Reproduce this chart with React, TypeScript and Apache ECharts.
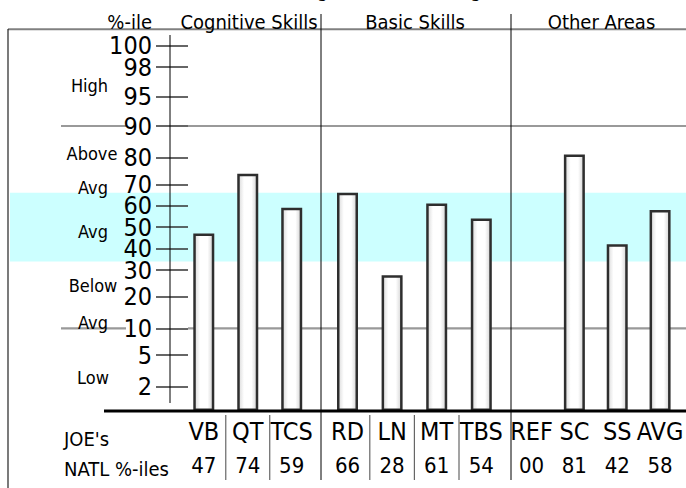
import { useEffect, useRef } from "react";
import * as echarts from "echarts";

// ---------- data ----------
const GROUP_NAMES = ["Cognitive Skills", "Basic Skills", "Other Areas"];
const COGNITIVE_CATS = ["VB", "QT", "TCS"];
const BASIC_CATS = ["RD", "LN", "MT", "TBS"];
const OTHER_CATS = ["REF", "SC", "SS", "AVG"];
const COGNITIVE_VALUES = [47, 74, 59];
const BASIC_VALUES = [66, 28, 61, 54];
const OTHER_VALUES = [0, 81, 42, 58];
const TICK_PERCENTILES = [2, 5, 10, 20, 30, 40, 50, 60, 70, 80, 90, 95, 98, 100];
// the chart's non-linear percentile scale: percentile breakpoints -> scale units
const SCALE_PCT = [0, 2, 5, 10, 20, 30, 40, 50, 60, 70, 80, 90, 95, 98, 100];
const SCALE_UNITS = [0, 24.3, 56, 82.7, 114.3, 141, 162.5, 184, 205.3, 226.7, 253.3, 285, 314.3, 344, 365.3];
const AVG_BAND = [34, 66];
const GUIDE_PERCENTILES = [10, 90];
const ZONE_LABELS = ["High", "Above", "Avg", "Avg", "Below", "Avg", "Low"];

// ---------- layout ----------
const W = 686;
const H = 488;
const BASE_Y = 411;
const TOP_Y = 45.7;
const HEADROOM = 8;
const FONT = "'DejaVu Sans Condensed', 'Liberation Sans Narrow', sans-serif";
const ZONE_Y = [85, 153, 187, 231, 285.5, 322, 377.5];
const ZONE_X = [89.5, 92, 93, 93, 93, 93, 93];

function toScale(p: number): number {
  for (let i = 1; i < SCALE_PCT.length; i++) {
    if (p <= SCALE_PCT[i]) {
      const t = (p - SCALE_PCT[i - 1]) / (SCALE_PCT[i] - SCALE_PCT[i - 1]);
      return SCALE_UNITS[i - 1] + t * (SCALE_UNITS[i] - SCALE_UNITS[i - 1]);
    }
  }
  return SCALE_UNITS[SCALE_UNITS.length - 1];
}
const AXIS_MAX = SCALE_UNITS[SCALE_UNITS.length - 1] + HEADROOM;

const GROUPS = [
  { cats: COGNITIVE_CATS, values: COGNITIVE_VALUES, left: 181.8, width: 131.9 },
  { cats: BASIC_CATS, values: BASIC_VALUES, left: 325.2, width: 178.4 },
  { cats: OTHER_CATS, values: OTHER_VALUES, left: 510.1, width: 171.4 },
];

const pad2 = (v: number) => String(v).padStart(2, "0");

export default function App() {
  const ref = useRef<HTMLDivElement>(null);
  useEffect(() => {
    if (!ref.current) return;
    const chart = echarts.init(ref.current, undefined, { renderer: "svg" });
    const gridTop = TOP_Y - HEADROOM;

    // tick axis is split in two so that ECharts' min/max label overlap rule keeps the crowded top tick
    const topPct = TICK_PERCENTILES.slice(-1);
    const restPct = TICK_PERCENTILES.slice(0, -1);

    const tickGrid = { left: 188, width: 4, top: gridTop, bottom: H - BASE_Y, containLabel: false, outerBoundsMode: "none" };
    const grids: any[] = [
      tickGrid,
      ...GROUPS.map((g) => ({
        left: g.left,
        width: g.width,
        top: gridTop,
        bottom: H - BASE_Y,
        containLabel: false,
        outerBoundsMode: "none",
      })),
      { ...tickGrid },
    ];

    const xAxes: any[] = [
      { gridIndex: 0, type: "value", show: false },
      ...GROUPS.map((g, gi) => ({
        gridIndex: gi + 1,
        type: "category",
        data: g.cats,
        axisLine: { show: false },
        axisTick: { show: false },
        z: 4,
        axisLabel: {
          interval: 0,
          margin: 3,
          color: "#000",
          formatter: (val: string, idx: number) => `{c|${val}}\n{v|${pad2(g.values[idx])}}`,
          rich: {
            c: { fontSize: 25, lineHeight: 34, fontFamily: FONT, color: "#000" },
            v: { fontSize: 22, lineHeight: 34, fontFamily: FONT, color: "#000" },
          },
        },
      })),
      { gridIndex: 4, type: "value", show: false },
    ];

    const tickAxis = (gridIndex: number, pcts: number[]) => {
      const units = pcts.map((p) => toScale(p));
      return {
        gridIndex,
        type: "value",
        min: 0,
        max: AXIS_MAX,
        position: "left",
        z: 4,
        axisLine: { show: false },
        splitLine: { show: false },
        axisTick: {
          show: true,
          length: 32,
          customValues: units,
          lineStyle: { color: "#333", width: 1.5 },
        },
        axisLabel: {
          customValues: units.slice(),
          showMinLabel: true,
          showMaxLabel: true,
          margin: 36,
          fontSize: 25,
          lineHeight: 18,
          fontFamily: FONT,
          color: "#000",
          formatter: (v: number) => {
            let best = 0;
            for (let i = 0; i < units.length; i++) {
              if (Math.abs(units[i] - v) < Math.abs(units[best] - v)) best = i;
            }
            return String(pcts[best]);
          },
        },
      };
    };

    const yAxes: any[] = [
      tickAxis(0, restPct),
      ...GROUPS.map((_, gi) => ({
        gridIndex: gi + 1,
        type: "value",
        min: 0,
        max: AXIS_MAX,
        show: false,
      })),
      tickAxis(4, topPct),
    ];

    const series: any[] = GROUPS.map((g, gi) => ({
      type: "bar",
      xAxisIndex: gi + 1,
      yAxisIndex: gi + 1,
      barWidth: 21,
      z: 2,
      data: g.values.map((v) => (v > 0 ? toScale(v) : null)),
      itemStyle: {
        color: new echarts.graphic.LinearGradient(0, 0, 1, 0, [
          { offset: 0, color: "#d9d9d9" },
          { offset: 0.3, color: "#ffffff" },
          { offset: 0.7, color: "#ffffff" },
          { offset: 1, color: "#d4d4d4" },
        ]),
        borderColor: "#2e2e2e",
        borderWidth: 2.5,
      },
    }));

    chart.setOption({
      animation: false,
      backgroundColor: "#fff",
      grid: grids,
      xAxis: xAxes,
      yAxis: yAxes,
      series,
    });

    const yPix = (p: number) => chart.convertToPixel({ yAxisIndex: 1 }, toScale(p)) as number;
    const xPix = (axis: number, cat: string) => chart.convertToPixel({ xAxisIndex: axis }, cat) as number;

    const els: any[] = [];
    // average band
    const bandTop = yPix(AVG_BAND[1]);
    const bandBot = yPix(AVG_BAND[0]);
    els.push({
      type: "rect",
      z: -1,
      shape: { x: 10, y: bandTop, width: W - 10, height: bandBot - bandTop },
      style: { fill: "#ccffff" },
    });
    // guide lines at 10 and 90
    GUIDE_PERCENTILES.forEach((p) => {
      const y = yPix(p);
      els.push({ type: "line", z: 1, shape: { x1: 61, y1: y, x2: 126, y2: y }, style: { stroke: "#999", lineWidth: 2.2 } });
      els.push({ type: "line", z: 1, shape: { x1: 188, y1: y, x2: W, y2: y }, style: { stroke: "#999", lineWidth: 2.2 } });
    });
    // y axis line
    els.push({ type: "line", z: 5, shape: { x1: 170, y1: 35, x2: 170, y2: 403 }, style: { stroke: "#000", lineWidth: 1 } });
    // baseline
    els.push({ type: "line", z: 6, shape: { x1: 104, y1: BASE_Y, x2: W, y2: BASE_Y }, style: { stroke: "#000", lineWidth: 3 } });
    // frame
    els.push({ type: "line", z: 5, shape: { x1: 8, y1: 29.3, x2: W, y2: 29.3 }, style: { stroke: "#808080", lineWidth: 2 } });
    els.push({ type: "line", z: 5, shape: { x1: 8, y1: 29, x2: 8, y2: H }, style: { stroke: "#222", lineWidth: 1.2 } });
    // group dividers
    [321, 511].forEach((x) => {
      els.push({ type: "line", z: 5, shape: { x1: x, y1: 14, x2: x, y2: 480 }, style: { stroke: "#000", lineWidth: 1 } });
    });
    // sub dividers in the label area (between categories of the first two groups)
    GROUPS.slice(0, 2).forEach((g, gi) => {
      for (let i = 0; i < g.cats.length - 1; i++) {
        const x = (xPix(gi + 1, g.cats[i]) + xPix(gi + 1, g.cats[i + 1])) / 2;
        els.push({ type: "line", z: 5, shape: { x1: x, y1: 415, x2: x, y2: 480 }, style: { stroke: "#666", lineWidth: 1.2 } });
      }
    });
    // texts
    const txt = (text: string, x: number, y: number, size: number, align = "center") => ({
      type: "text",
      z: 7,
      x,
      y,
      style: { text, fill: "#000", fontSize: size, fontFamily: FONT, align, verticalAlign: "middle" },
    });
    els.push(txt("(Avg = National Range)", 394, -10, 20));
    els.push(txt("%-ile", 152, 21.5, 20, "right"));
    const headerX = [249, 415, 601.5];
    GROUP_NAMES.forEach((n, i) => els.push(txt(n, headerX[i], 21.5, 20)));
    ZONE_LABELS.forEach((n, i) => els.push(txt(n, ZONE_X[i], ZONE_Y[i], 18)));
    els.push(txt("JOE's", 64, 439, 20, "left"));
    els.push(txt("NATL %-iles", 64, 469, 20, "left"));

    chart.setOption({ graphic: { elements: els } });

    return () => chart.dispose();
  }, []);
  return <div ref={ref} style={{ position: "fixed", left: 0, top: 0, width: W, height: H }} />;
}
